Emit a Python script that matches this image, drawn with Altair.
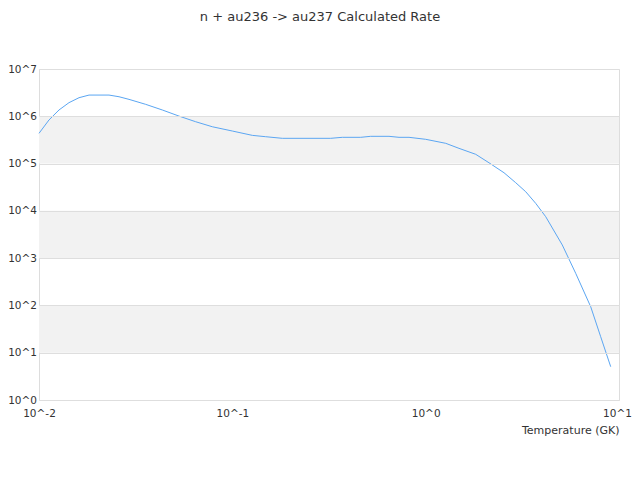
import altair as alt
import pandas as pd

temps = [0.01, 0.01126, 0.01269, 0.01429, 0.0161, 0.01814, 0.02302, 0.02593, 0.02921,
         0.03562, 0.04343, 0.05297, 0.06461, 0.07877, 0.1, 0.1269, 0.1488, 0.1814,
         0.2807, 0.3227, 0.3705, 0.4613, 0.5195, 0.6461, 0.728, 0.8202, 1.0, 1.27,
         1.487, 1.815, 2.126, 2.542, 2.922, 3.292, 3.709, 4.178, 5.089, 5.97, 7.139,
         8.04, 9.06]
rates = [4.36e5, 8.34e5, 1.36e6, 1.94e6, 2.47e6, 2.81e6, 2.81e6, 2.59e6, 2.28e6,
         1.79e6, 1.36e6, 1.01e6, 7.67e5, 6.01e5, 4.88e5, 3.95e5, 3.70e5, 3.42e5,
         3.42e5, 3.42e5, 3.59e5, 3.59e5, 3.77e5, 3.77e5, 3.59e5, 3.59e5, 3.26e5, 2.68e5,
         2.10e5, 1.57e5, 1.04e5, 6.40e4, 3.94e4, 2.54e4, 1.44e4, 7.52e3, 1.90e3, 478, 94,
         21.8, 5.06]

band_low = [1e1, 1e3, 1e5]
band_high = [1e2, 1e4, 1e6]

x_ticks = [0.01, 0.1, 1, 10]
y_ticks = [1, 10, 100, 1e3, 1e4, 1e5, 1e6, 1e7]

W, H = 580, 331
FONT = "DejaVu Sans"

df = pd.DataFrame({"T": temps, "rate": rates})
bands = pd.DataFrame({"lo": band_low, "hi": band_high})

xscale = alt.Scale(type="log", domain=[0.01, 10], nice=False)
yscale = alt.Scale(type="log", domain=[1, 1e7], nice=False)

yaxis = alt.Axis(values=y_ticks, grid=True, gridColor="#dedede", zindex=1,
                 ticks=False, domain=False, labelFlush=False,
                 labelExpr="'10^' + round(log(datum.value)/log(10))",
                 labelFontSize=10.5, labelColor="#333", labelPadding=2.5,
                 labelFont=FONT)

band_layer = alt.Chart(bands).mark_rect(color="#f2f2f2").encode(
    x=alt.value(0), x2=alt.value(W),
    y=alt.Y("lo:Q", scale=yscale, title=None, axis=yaxis),
    y2="hi:Q",
)

line = alt.Chart(df).mark_line(color="#5ba6f2", strokeWidth=1).encode(
    x=alt.X("T:Q", scale=xscale, title="Temperature (GK)",
            axis=alt.Axis(values=x_ticks, grid=False, ticks=False, domain=False,
                          labelFlush=False,
                          labelOffset={"condition": {"test": "datum.value >= 10", "value": -2},
                                       "value": 0},
                          labelExpr="'10^' + round(log(datum.value)/log(10))",
                          labelFontSize=10.5, labelColor="#333", labelPadding=8,
                          labelFont=FONT, titleFont=FONT, titleFontSize=11,
                          titleFontWeight="normal", titleColor="#333",
                          titleAnchor="end", titleAlign="right", titlePadding=6)),
    y=alt.Y("rate:Q", scale=yscale, title=None, axis=yaxis),
)

chart = alt.layer(band_layer, line).properties(
    width=W, height=H,
    title=alt.TitleParams("n + au236 -> au237 Calculated Rate", font=FONT, fontSize=13,
                          fontWeight="normal", color="#333", offset=40, dx=-9),
    autosize=alt.AutoSizeParams(type="none"),
    padding={"left": 31, "top": 61, "right": 13, "bottom": 72},
).configure_view(stroke="#cccccc", strokeWidth=1).configure(background="white")

chart.save("out.html", embed_options={"renderer": "svg", "actions": False})
